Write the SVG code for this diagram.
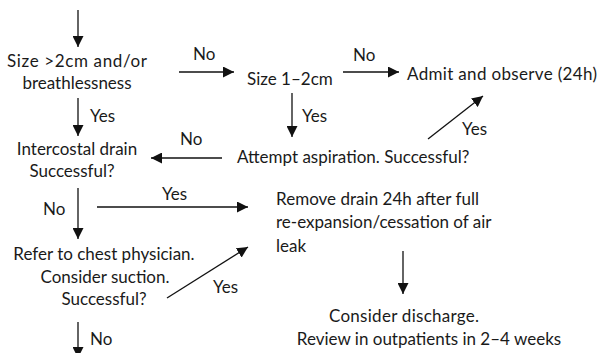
<svg xmlns="http://www.w3.org/2000/svg" width="601" height="353" viewBox="0 0 601 353">
<style>
text{font-family:"Lato","Open Sans","Liberation Sans",sans-serif;font-size:17px;fill:#1a1a1a}
.c{text-anchor:middle}
.e line{stroke:#111;stroke-width:1.3;marker-end:url(#ah)}
</style>
<defs>
<marker id="ah" markerUnits="userSpaceOnUse" markerWidth="11" markerHeight="11" refX="11" refY="5.5" orient="auto" viewBox="0 0 11 11">
<path d="M0,0 L11,5.5 L0,11 z" fill="#111"/>
</marker>
</defs>
<rect width="601" height="353" fill="#fff"/>
<g id="edges" class="e">
<line x1="78" y1="10" x2="78" y2="47"/>
<line x1="179" y1="72" x2="234" y2="72"/>
<line x1="343" y1="72" x2="399" y2="72"/>
<line x1="78" y1="98" x2="78" y2="136"/>
<line x1="292" y1="93" x2="292" y2="137"/>
<line x1="428" y1="139" x2="483" y2="96"/>
<line x1="222" y1="158" x2="151" y2="158"/>
<line x1="78" y1="188" x2="78" y2="239"/>
<line x1="97" y1="207" x2="248" y2="207"/>
<line x1="167" y1="298" x2="248" y2="247"/>
<line x1="403" y1="251" x2="403" y2="294"/>
<line x1="78" y1="322" x2="78" y2="358"/>
</g>
<g id="labels">
<text x="193" y="60">No</text>
<text x="353" y="61">No</text>
<text x="90" y="122">Yes</text>
<text x="302" y="122">Yes</text>
<text x="462" y="135">Yes</text>
<text x="180" y="145">No</text>
<text x="43" y="215">No</text>
<text x="162" y="200">Yes</text>
<text x="213" y="293">Yes</text>
<text x="90" y="345">No</text>
</g>
<g id="n1"><text x="7" y="67" textLength="140" lengthAdjust="spacing">Size &gt;2cm and/or</text><text class="c" x="77" y="89">breathlessness</text></g>
<g id="n2"><text x="247" y="85">Size 1–2cm</text></g>
<g id="n3"><text x="407" y="80" textLength="190" lengthAdjust="spacing">Admit and observe (24h)</text></g>
<g id="n4"><text class="c" x="77" y="155">Intercostal drain</text><text class="c" x="72" y="177">Successful?</text></g>
<g id="n5"><text x="237" y="163">Attempt aspiration. Successful?</text></g>
<g id="n6"><text x="276" y="205" textLength="203" lengthAdjust="spacing">Remove drain 24h after full</text><text x="276" y="228">re-expansion/cessation of air</text><text x="276" y="252">leak</text></g>
<g id="n7"><text class="c" x="104" y="260">Refer to chest physician.</text><text class="c" x="105" y="283">Consider suction.</text><text class="c" x="104" y="305">Successful?</text></g>
<g id="n8"><text x="329" y="322" textLength="150" lengthAdjust="spacing">Consider discharge.</text><text class="c" x="429" y="345">Review in outpatients in 2–4 weeks</text></g>
</svg>
